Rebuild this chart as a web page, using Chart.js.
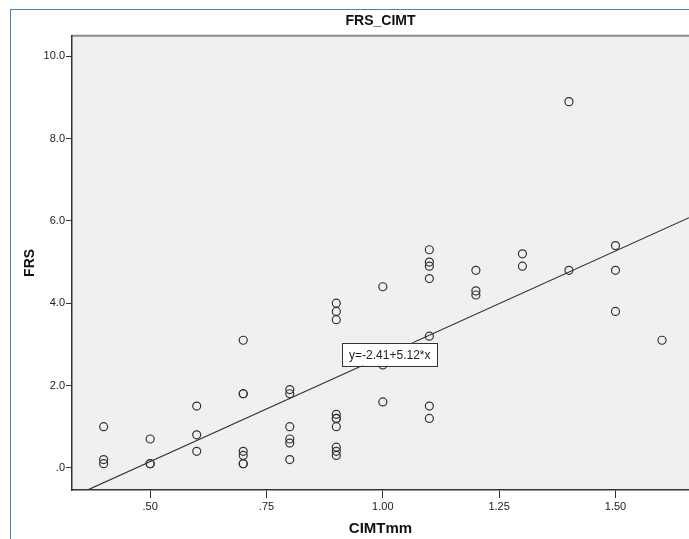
<!DOCTYPE html>
<html>
<head>
<meta charset="utf-8">
<script src="https://cdn.jsdelivr.net/npm/chart.js@4.4.1/dist/chart.umd.min.js"></script>
<style>
	html, body { margin: 0; padding: 0; background: #fff; }
	#wrap { position: relative; width: 689px; height: 539px; overflow: hidden; }
	#frame { position: absolute; left: 10px; top: 9px; width: 700px; height: 560px; border-left: 1px solid #4f7fc0; border-top: 1px solid #4f7fc0; }
	canvas { position: absolute; left: 0; top: 0; }
</style>
</head>
<body>
<div id="wrap">
	<div id="frame"></div>
	<canvas id="chart" width="689" height="539"></canvas>
</div>
<script>
// CIMT (mm) and FRS, one entry per subject
const cimt = [
	0.4, 0.4, 0.4,
	0.5, 0.5, 0.5,
	0.6, 0.6, 0.6,
	0.7, 0.7, 0.7, 0.7, 0.7, 0.7, 0.7,
	0.8, 0.8, 0.8, 0.8, 0.8, 0.8,
	0.9, 0.9, 0.9, 0.9, 0.9, 0.9, 0.9, 0.9, 0.9, 0.9,
	1.0, 1.0, 1.0,
	1.1, 1.1, 1.1, 1.1, 1.1, 1.1, 1.1,
	1.2, 1.2, 1.2,
	1.3, 1.3,
	1.4, 1.4,
	1.5, 1.5, 1.5,
	1.6
];
const frs = [
	1.0, 0.2, 0.1,
	0.7, 0.1, 0.1,
	1.5, 0.8, 0.4,
	3.1, 1.8, 1.8, 0.4, 0.3, 0.1, 0.1,
	1.9, 1.8, 1.0, 0.7, 0.6, 0.2,
	4.0, 3.8, 3.6, 1.3, 1.2, 1.2, 1.0, 0.5, 0.4, 0.3,
	4.4, 2.5, 1.6,
	5.3, 5.0, 4.9, 4.6, 3.2, 1.5, 1.2,
	4.8, 4.3, 4.2,
	5.2, 4.9,
	8.9, 4.8,
	5.4, 4.8, 3.8,
	3.1
];

const fitIntercept = -2.41;
const fitSlope = 5.12;
const fitText = "y=-2.41+5.12*x";
const fitLabelAt = [1.015, 2.76];

const xTicks = [0.50, 0.75, 1.00, 1.25, 1.50];
const yTicks = [0, 2, 4, 6, 8, 10];
const xRange = [0.332, 1.658];
const yRange = [-0.54, 10.5];

const font = '"Liberation Sans", Arial, sans-serif';

const points = cimt.map((v, i) => ({x: v, y: frs[i]}));
const fitLine = xRange.map(v => ({x: v, y: fitIntercept + fitSlope * v}));

const plotBackground = {
	id: "plotBackground",
	beforeDraw(chart) {
		const {ctx, chartArea: a} = chart;
		ctx.save();
		ctx.fillStyle = "#f0f0f0";
		ctx.fillRect(a.left, a.top, a.right - a.left, a.bottom - a.top);
		ctx.strokeStyle = "#8a8a8a";
		ctx.lineWidth = 2;
		ctx.beginPath();
		ctx.moveTo(a.left, a.top);
		ctx.lineTo(a.right, a.top);
		ctx.stroke();
		ctx.restore();
	}
};

const fitLabel = {
	id: "fitLabel",
	afterDatasetsDraw(chart) {
		const {ctx, scales: {x, y}} = chart;
		const cx = x.getPixelForValue(fitLabelAt[0]);
		const cy = y.getPixelForValue(fitLabelAt[1]);
		ctx.save();
		ctx.font = "12px " + font;
		const w = ctx.measureText(fitText).width + 14;
		const h = 23;
		ctx.fillStyle = "#fff";
		ctx.fillRect(cx - w / 2, cy - h / 2, w, h);
		ctx.strokeStyle = "#333";
		ctx.lineWidth = 1;
		ctx.strokeRect(Math.round(cx - w / 2) + 0.5, Math.round(cy - h / 2) + 0.5, Math.round(w), h);
		ctx.fillStyle = "#222";
		ctx.textAlign = "center";
		ctx.textBaseline = "middle";
		ctx.fillText(fitText, cx, cy + 1);
		ctx.restore();
	}
};

function noLeadingZero(v, digits) {
	return Number(v).toFixed(digits).replace(/^0\./, ".");
}

new Chart("chart", {
	type: "scatter",
	data: {
		datasets: [
			{
				data: points,
				pointStyle: "circle",
				pointRadius: 4,
				pointBorderWidth: 1.2,
				pointBorderColor: "#333",
				pointBackgroundColor: "rgba(0,0,0,0)"
			},
			{
				data: fitLine,
				showLine: true,
				pointRadius: 0,
				borderColor: "#333",
				borderWidth: 1.2
			}
		]
	},
	options: {
		responsive: false,
		animation: false,
		layout: {autoPadding: false, padding: {top: 10, left: 0, right: 0, bottom: 0}},
		plugins: {
			legend: {display: false},
			tooltip: {enabled: false},
			title: {
				display: true,
				text: "FRS_CIMT",
				fullSize: false,
				color: "#111",
				font: {family: font, size: 14, weight: "bold"},
				padding: {top: 3, bottom: 6}
			}
		},
		scales: {
			x: {
				type: "linear",
				min: xRange[0],
				max: xRange[1],
				afterBuildTicks: scale => { scale.ticks = xTicks.map(v => ({value: v})); },
				afterFit: scale => {
					scale.height = 49;
					scale.paddingLeft = 0;
					scale.paddingRight = 0;
				},
				ticks: {
					callback: v => noLeadingZero(v, 2),
					color: "#222",
					font: {family: font, size: 11},
					padding: 2,
					maxRotation: 0
				},
				grid: {drawOnChartArea: false, drawTicks: true, tickLength: 8, color: "#333"},
				border: {display: true, color: "#333", width: 1.5},
				title: {
					display: true,
					text: "CIMTmm",
					color: "#111",
					font: {family: font, size: 15, weight: "bold"},
					padding: {top: 0, bottom: 1}
				}
			},
			y: {
				type: "linear",
				min: yRange[0],
				max: yRange[1],
				afterBuildTicks: scale => { scale.ticks = yTicks.map(v => ({value: v})); },
				afterFit: scale => {
					scale.width = 72;
					scale.paddingTop = 0;
					scale.paddingBottom = 0;
				},
				ticks: {
					callback: v => noLeadingZero(v, 1),
					color: "#222",
					font: {family: font, size: 11},
					padding: 1
				},
				grid: {drawOnChartArea: false, drawTicks: true, tickLength: 6, color: "#333"},
				border: {display: true, color: "#333", width: 1.5},
				title: {
					display: true,
					text: "FRS",
					color: "#111",
					font: {family: font, size: 14, weight: "bold"},
					padding: {top: 22, bottom: 0}
				}
			}
		}
	},
	plugins: [plotBackground, fitLabel]
});
</script>
</body>
</html>
